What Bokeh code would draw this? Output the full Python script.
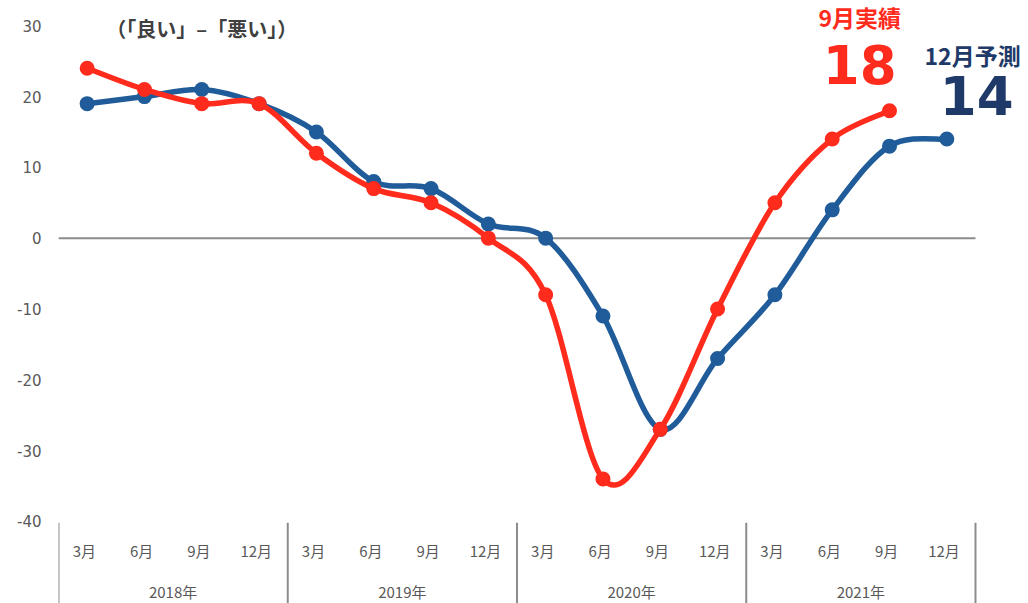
import numpy as np
from bokeh.plotting import figure
from bokeh.models import Range1d, FixedTicker, Label, ColumnDataSource
from bokeh.core.properties import value
from bokeh.embed import file_html
from bokeh.resources import INLINE

# ---- data ----
years = ["2018年", "2019年", "2020年", "2021年"]
months = ["3月", "6月", "9月", "12月"]
actual = [24, 21, 19, 19, 12, 7, 5, 0, -8, -34, -27, -10, 5, 14, 18]          # 実績 (red)
forecast = [19, 20, 21, 19, 15, 8, 7, 2, 0, -11, -27, -17, -8, 4, 13, 14]     # 予測 (blue)
y_ticks = [-40, -30, -20, -10, 0, 10, 20, 30]
title_text = "（「良い」–「悪い」）"
actual_label, actual_value = "9月実績", "18"
forecast_label, forecast_value = "12月予測", "14"

RED = "#FF2B1C"
BLUE = "#1F5C99"
NAVY = "#1F3A68"
GRAY_TXT = "#595959"
GRAY_LINE = "#8C8C8C"
JP = "Noto Sans CJK JP"

n_cat = len(years) * len(months)
cat_x = np.arange(n_cat) + 0.5
month_labels = [m for _ in years for m in months]

W, H = 1028, 603
Y_TOP, Y_BOT = 33.57, -51.6
p = figure(width=W, height=H, output_backend="svg", toolbar_location=None,
           x_range=Range1d(0, 16.925), y_range=Range1d(Y_BOT, Y_TOP),
           min_border_left=58, min_border_right=0, min_border_top=0, min_border_bottom=0,
           outline_line_color=None, background_fill_color="white", border_fill_color="white")
p.xaxis.visible = False
p.grid.visible = False

ya = p.yaxis[0]
ya.ticker = FixedTicker(ticks=y_ticks)
ya.major_label_overrides = {t: str(t) for t in y_ticks}
ya.axis_line_color = None
ya.major_tick_line_color = None
ya.minor_tick_line_color = None
ya.major_tick_out = 0
ya.major_tick_in = 0
ya.major_label_standoff = 17
ya.major_label_text_font = "DejaVu Sans"
ya.major_label_text_font_size = "15px"
ya.major_label_text_color = GRAY_TXT

# zero line
p.segment(x0=[0], y0=[0], x1=[n_cat], y1=[0], line_color=GRAY_LINE, line_width=2)

# group separators and category labels
sep_x = [i * len(months) for i in range(len(years) + 1)]
p.segment(x0=sep_x, y0=[-40.2] * len(sep_x), x1=sep_x, y1=[Y_BOT] * len(sep_x),
          line_color=GRAY_LINE, line_width=2)
p.text(x=cat_x - 0.05, y=[-44.1] * n_cat, text=month_labels, text_align="center",
       text_baseline="middle", text_font=value(JP), text_font_size="15px",
       text_color=GRAY_TXT)
year_x = [i * len(months) + len(months) / 2 for i in range(len(years))]
p.text(x=year_x, y=[-49.9] * len(years), text=years, text_align="center",
       text_baseline="middle", text_font=value(JP), text_font_size="15px",
       text_color=GRAY_TXT)


def smooth_segments(xs, ys):
    xs = np.asarray(xs, float)
    ys = np.asarray(ys, float)
    n = len(xs)
    out = dict(x0=[], y0=[], x1=[], y1=[], cx0=[], cy0=[], cx1=[], cy1=[])
    for i in range(n - 1):
        i0 = max(i - 1, 0)
        i3 = min(i + 2, n - 1)
        out["x0"].append(xs[i]); out["y0"].append(ys[i])
        out["x1"].append(xs[i + 1]); out["y1"].append(ys[i + 1])
        out["cx0"].append(xs[i] + (xs[i + 1] - xs[i0]) / 6)
        out["cy0"].append(ys[i] + (ys[i + 1] - ys[i0]) / 6)
        out["cx1"].append(xs[i + 1] - (xs[i3] - xs[i]) / 6)
        out["cy1"].append(ys[i + 1] - (ys[i3] - ys[i]) / 6)
    return ColumnDataSource(out)


for vals, col in [(forecast, BLUE), (actual, RED)]:
    xs = cat_x[:len(vals)]
    src = smooth_segments(xs, vals)
    p.bezier(x0="x0", y0="y0", x1="x1", y1="y1", cx0="cx0", cy0="cy0", cx1="cx1", cy1="cy1",
             source=src, line_color=col, line_width=5.5, line_cap="round")
    p.scatter(x=xs, y=vals, size=15, fill_color=col, line_color=col, line_width=0)

# annotations
p.add_layout(Label(x=2.5, y=29.6, text=title_text, text_align="center", text_baseline="middle",
                   text_font=JP, text_font_style="bold", text_font_size="20px", text_color="#404040"))
p.add_layout(Label(x=13.98, y=31.2, text=actual_label, text_align="center", text_baseline="middle",
                   text_font=JP, text_font_style="bold", text_font_size="23px", text_color=RED))
p.add_layout(Label(x=13.98, y=24.6, text=actual_value, text_align="center", text_baseline="middle",
                   text_font="DejaVu Sans", text_font_style="bold", text_font_size="53px", text_color=RED))
p.add_layout(Label(x=15.95, y=25.9, text=forecast_label, text_align="center", text_baseline="middle",
                   text_font=JP, text_font_style="bold", text_font_size="23px", text_color=NAVY))
p.add_layout(Label(x=16.02, y=20.15, text=forecast_value, text_align="center", text_baseline="middle",
                   text_font="DejaVu Sans", text_font_style="bold", text_font_size="53px", text_color=NAVY))

open("out.html", "w").write(file_html(p, INLINE))
